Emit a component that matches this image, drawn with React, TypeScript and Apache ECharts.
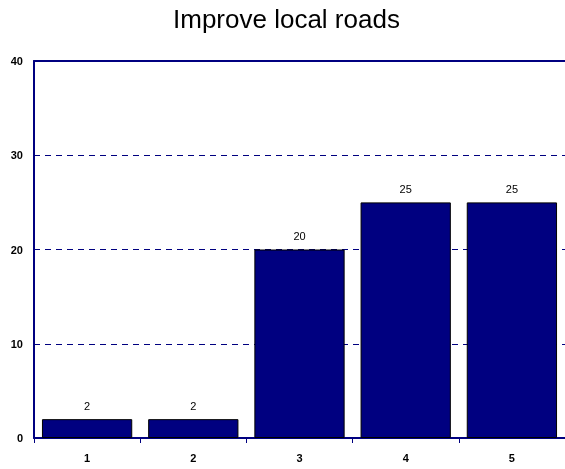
import React, { useEffect, useRef } from "react";
import * as echarts from "echarts";

const categories = ["1", "2", "3", "4", "5"];
const values = [2, 2, 20, 25, 25];
const yTicks = [0, 10, 20, 30, 40];

export default function App() {
  const ref = useRef<HTMLDivElement>(null);
  useEffect(() => {
    const chart = echarts.init(ref.current!, null, { renderer: "svg" });
    chart.setOption({
      animation: false,
      title: {
        text: "Improve local roads",
        left: 168,
        top: 1,
        textStyle: { fontFamily: "Liberation Sans", fontSize: 26, fontWeight: "normal", color: "#000" },
      },
      grid: { left: 34, right: -1, top: 61, bottom: 31, containLabel: false },
      xAxis: [
        {
          type: "category",
          data: categories,
          axisLine: { lineStyle: { color: "#000080", width: 2 } },
          axisTick: { show: true, alignWithLabel: false, length: 5, lineStyle: { color: "#000080", width: 1 } },
          axisLabel: { fontFamily: "Liberation Sans", fontSize: 11, fontWeight: "bold", color: "#000", margin: 14 },
        },
        {
          type: "category",
          position: "top",
          data: categories,
          axisLine: { show: true, lineStyle: { color: "#000080", width: 2 } },
          axisTick: { show: false },
          axisLabel: { show: false },
        },
      ],
      yAxis: {
        type: "value",
        min: yTicks[0],
        max: yTicks[yTicks.length - 1],
        interval: 10,
        axisLine: { show: true, lineStyle: { color: "#000080", width: 2 } },
        axisTick: { show: false },
        axisLabel: { fontFamily: "Liberation Sans", fontSize: 11, fontWeight: "bold", color: "#000", margin: 11 },
        splitLine: { show: true, lineStyle: { color: "#000080", type: [6, 5], width: 1 } },
      },
      series: [
        {
          type: "bar",
          data: values,
          barCategoryGap: "15%",
          itemStyle: { color: "#000080", borderColor: "#000", borderWidth: 1 },
          label: { show: true, position: "top", distance: 8, fontFamily: "Liberation Sans", fontSize: 11, color: "#000" },
        },
      ],
    });
    return () => chart.dispose();
  }, []);
  return <div ref={ref} style={{ position: "fixed", left: 0, top: 0, width: 565, height: 469 }} />;
}
